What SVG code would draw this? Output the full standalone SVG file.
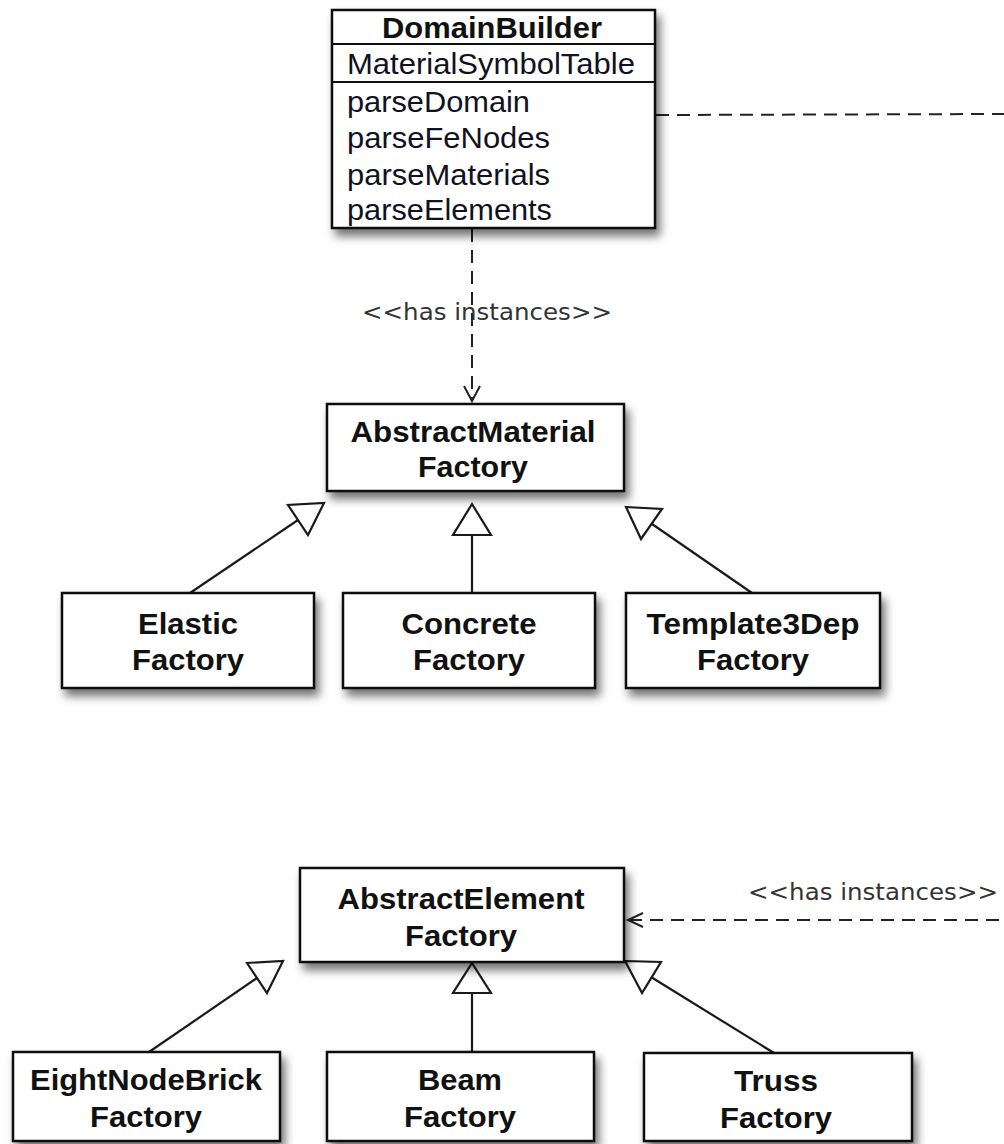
<svg xmlns="http://www.w3.org/2000/svg" width="1004" height="1144" viewBox="0 0 1004 1144">
  <style>
    .box { fill: #ffffff; stroke: #111111; stroke-width: 2.5; }
    .sep { stroke: #111111; stroke-width: 2; }
    .title { font-family: "Liberation Sans", Arial, Helvetica, sans-serif; font-weight: bold; font-size: 29px; fill: #111111; text-anchor: middle; }
    .member { font-family: "Liberation Sans", Arial, Helvetica, sans-serif; font-size: 29px; fill: #111122; }
    .stereo { font-family: "DejaVu Sans", Verdana, sans-serif; font-size: 23px; fill: #333333; }
    .link { fill: none; stroke: #1a1a1a; stroke-width: 2.2; }
    .dep { fill: none; stroke: #222222; stroke-width: 2; stroke-dasharray: 13 8; }
    .head { fill: none; stroke: #222222; stroke-width: 2; }
    .tri { fill: #ffffff; stroke: #1a1a1a; stroke-width: 2.2; stroke-linejoin: miter; }
  </style>
  <defs>
    <filter id="shadow" x="-10%" y="-15%" width="130%" height="150%">
      <feDropShadow dx="4" dy="7" stdDeviation="5" flood-color="#000000" flood-opacity="0.55"/>
    </filter>
  </defs>

  <rect width="1004" height="1144" fill="#ffffff"/>

  <!-- connectors -->
  <g id="connectors">
    <!-- DomainBuilder has instances of AbstractMaterialFactory -->
    <line class="dep" x1="472" y1="229" x2="472" y2="400"/>
    <polyline class="head" points="464,386 472,401 480,386"/>
    <text class="stereo" x="362" y="320" textLength="250" lengthAdjust="spacingAndGlyphs">&lt;&lt;has instances&gt;&gt;</text>

    <!-- DomainBuilder dependency leaving to the right -->
    <line class="dep" x1="656" y1="115" x2="1004" y2="114"/>

    <!-- has instances of AbstractElementFactory -->
    <line class="dep" x1="629" y1="920" x2="1004" y2="920"/>
    <polyline class="head" points="643,913 628,920 643,927"/>
    <text class="stereo" x="748" y="900" textLength="250" lengthAdjust="spacingAndGlyphs">&lt;&lt;has instances&gt;&gt;</text>

    <!-- material factory generalizations -->
    <line class="link" x1="190" y1="593" x2="298" y2="520"/>
    <polygon class="tri" points="324,503 308,535 288,505"/>
    <line class="link" x1="472" y1="535" x2="472" y2="593"/>
    <polygon class="tri" points="472,504 491,535 453,535"/>
    <line class="link" x1="752" y1="593" x2="652" y2="524"/>
    <polygon class="tri" points="626,507 662,509 641,539"/>

    <!-- element factory generalizations -->
    <line class="link" x1="149" y1="1052" x2="257" y2="978"/>
    <polygon class="tri" points="283,961 267,993 247,963"/>
    <line class="link" x1="472" y1="993" x2="472" y2="1052"/>
    <polygon class="tri" points="472,963 491,993 453,993"/>
    <line class="link" x1="774" y1="1053" x2="651" y2="977"/>
    <polygon class="tri" points="625,961 661,962 642,993"/>
  </g>

  <!-- DomainBuilder class -->
  <g id="domain-builder">
    <rect class="box" x="332" y="10" width="323" height="218" filter="url(#shadow)"/>
    <line class="sep" x1="332" y1="44" x2="655" y2="44"/>
    <line class="sep" x1="332" y1="82" x2="655" y2="82"/>
    <text class="title" x="492" y="38" textLength="220" lengthAdjust="spacingAndGlyphs">DomainBuilder</text>
    <text class="member" x="347" y="74" textLength="288" lengthAdjust="spacingAndGlyphs">MaterialSymbolTable</text>
    <text class="member" x="347" y="112" textLength="183" lengthAdjust="spacingAndGlyphs">parseDomain</text>
    <text class="member" x="347" y="148" textLength="203" lengthAdjust="spacingAndGlyphs">parseFeNodes</text>
    <text class="member" x="347" y="185" textLength="203" lengthAdjust="spacingAndGlyphs">parseMaterials</text>
    <text class="member" x="347" y="220" textLength="205" lengthAdjust="spacingAndGlyphs">parseElements</text>
  </g>

  <!-- material factories -->
  <g id="abstract-material-factory">
    <rect class="box" x="327" y="404" width="297" height="87" filter="url(#shadow)"/>
    <text class="title" x="473" y="442" textLength="245" lengthAdjust="spacingAndGlyphs">AbstractMaterial</text>
    <text class="title" x="473" y="477" textLength="110" lengthAdjust="spacingAndGlyphs">Factory</text>
  </g>
  <g id="elastic-factory">
    <rect class="box" x="62" y="593" width="252" height="95" filter="url(#shadow)"/>
    <text class="title" x="188" y="634" textLength="100" lengthAdjust="spacingAndGlyphs">Elastic</text>
    <text class="title" x="188" y="670" textLength="112" lengthAdjust="spacingAndGlyphs">Factory</text>
  </g>
  <g id="concrete-factory">
    <rect class="box" x="343" y="593" width="252" height="95" filter="url(#shadow)"/>
    <text class="title" x="469" y="634" textLength="135" lengthAdjust="spacingAndGlyphs">Concrete</text>
    <text class="title" x="469" y="670" textLength="112" lengthAdjust="spacingAndGlyphs">Factory</text>
  </g>
  <g id="template3dep-factory">
    <rect class="box" x="626" y="593" width="254" height="95" filter="url(#shadow)"/>
    <text class="title" x="753" y="634" textLength="213" lengthAdjust="spacingAndGlyphs">Template3Dep</text>
    <text class="title" x="753" y="670" textLength="112" lengthAdjust="spacingAndGlyphs">Factory</text>
  </g>

  <!-- element factories -->
  <g id="abstract-element-factory">
    <rect class="box" x="300" y="868" width="324" height="94" filter="url(#shadow)"/>
    <text class="title" x="461" y="909" textLength="247" lengthAdjust="spacingAndGlyphs">AbstractElement</text>
    <text class="title" x="461" y="946" textLength="112" lengthAdjust="spacingAndGlyphs">Factory</text>
  </g>
  <g id="eightnodebrick-factory">
    <rect class="box" x="13" y="1052" width="267" height="89" filter="url(#shadow)"/>
    <text class="title" x="146" y="1090" textLength="232" lengthAdjust="spacingAndGlyphs">EightNodeBrick</text>
    <text class="title" x="146" y="1127" textLength="112" lengthAdjust="spacingAndGlyphs">Factory</text>
  </g>
  <g id="beam-factory">
    <rect class="box" x="327" y="1052" width="267" height="89" filter="url(#shadow)"/>
    <text class="title" x="460" y="1090" textLength="84" lengthAdjust="spacingAndGlyphs">Beam</text>
    <text class="title" x="460" y="1127" textLength="112" lengthAdjust="spacingAndGlyphs">Factory</text>
  </g>
  <g id="truss-factory">
    <rect class="box" x="644" y="1053" width="268" height="88" filter="url(#shadow)"/>
    <text class="title" x="776" y="1091" textLength="84" lengthAdjust="spacingAndGlyphs">Truss</text>
    <text class="title" x="776" y="1128" textLength="112" lengthAdjust="spacingAndGlyphs">Factory</text>
  </g>
</svg>
